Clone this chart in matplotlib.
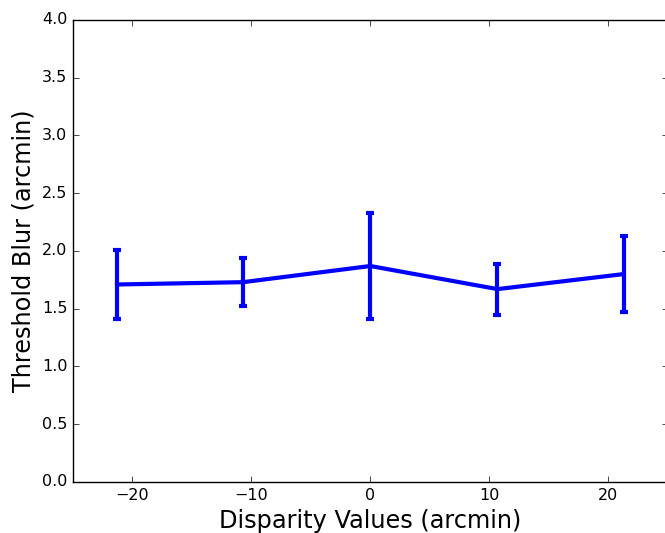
import numpy as np
import matplotlib
matplotlib.use('Agg')
import matplotlib.pyplot as plt

plt.style.use('classic')

# disparity (arcmin) vs threshold blur
disparidad = [-21.3, -10.7, 0.0, 10.7, 21.3]
umbral     = [1.71, 1.73, 1.87, 1.67, 1.80]
error      = [0.30, 0.21, 0.46, 0.22, 0.33]

fig = plt.figure(figsize=(6.65, 5.33), dpi=100, facecolor='white')
ax = fig.add_axes([0.1098, 0.0957, 0.8940, 0.8668])

ax.errorbar(disparidad, umbral, yerr=error, color='blue', lw=3,
            elinewidth=3, capsize=3, capthick=3)

ax.set_xlim(-25, 25)
ax.set_ylim(0, 4)
ax.set_xticks([-20, -10, 0, 10, 20])
ax.set_yticks(np.arange(0, 4.01, 0.5))
ax.tick_params(labelsize=11.5)
ax.set_xlabel('Disparity Values (arcmin)', fontsize=17.3)
ax.set_ylabel('Threshold Blur (arcmin)', fontsize=17.3)

fig.savefig('out.png', dpi=100, facecolor='white')
